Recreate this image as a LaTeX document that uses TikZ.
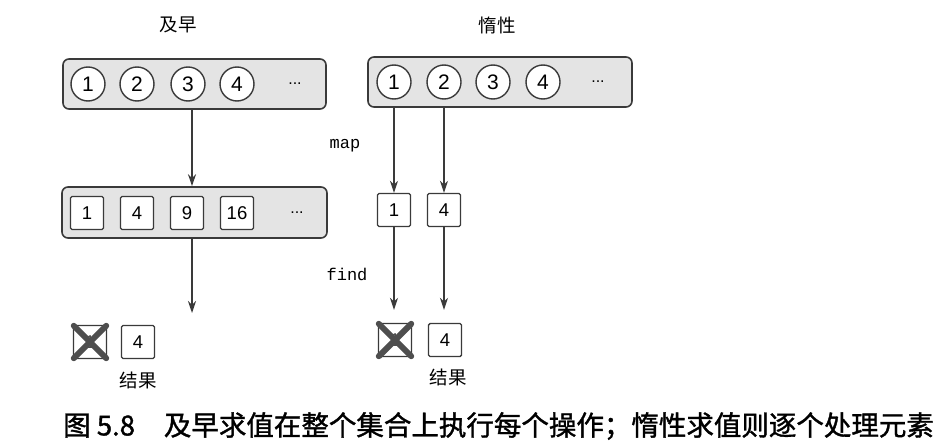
\documentclass[tikz,border=0pt]{standalone}
\usepackage{fontspec}
\setmainfont{Liberation Sans}
\newfontfamily\cjk{Noto Sans CJK SC}
\newfontfamily\capfont[FakeBold=1.3]{Noto Sans CJK SC}
\newfontfamily\mono{Liberation Mono}
\usetikzlibrary{arrows.meta}
\definecolor{boxfill}{HTML}{E4E4E4}
\definecolor{edge}{HTML}{3A3A3A}
\definecolor{crossc}{HTML}{4E4E4E}
\tikzset{
  coll/.style={draw=edge, line width=1.6pt, fill=boxfill, rounded corners=6pt, inner sep=0pt},
  elem/.style={circle, draw=edge, line width=1.4pt, fill=white, minimum size=34pt, inner sep=0pt, font=\fontsize{21}{21}\selectfont},
  sq/.style={rectangle, draw=edge, line width=1.4pt, fill=white, rounded corners=1.5pt, minimum size=33pt, inner sep=0pt, font=\fontsize{18.5}{18.5}\selectfont},
  dots/.style={font=\fontsize{16}{16}\selectfont},
  title/.style={font=\cjk\fontsize{18.5}{18.5}\selectfont},
  lbl/.style={font=\mono\fontsize{17}{17}\selectfont},
  flow/.style={draw=edge, line width=1.3pt, -{Stealth[length=12pt,width=8pt]}},
  cross/.style={draw=crossc, line width=6pt, line cap=round},
}
\begin{document}
\begin{tikzpicture}[x=1pt,y=-1pt]
\useasboundingbox (0,0) rectangle (942,447);
\fill[white] (0,0) rectangle (942,447);

% titles
\node[title] (teager) at (178,25) {及早};
\node[title] (tlazy) at (497,25) {惰性};

% eager top collection
\node[coll, minimum width=263pt, minimum height=50pt] (ebox) at (194.5,84) {};
\node[elem] (e1) at (88,84) {1};
\node[elem] (e2) at (137,84) {2};
\node[elem] (e3) at (188,84) {3};
\node[elem] (e4) at (237,84) {4};
\node[dots] (edots) at (295,84) {...};

% eager mapped collection
\node[coll, minimum width=265pt, minimum height=51pt] (mbox) at (194.5,212.5) {};
\node[sq] (m1) at (87,213) {1};
\node[sq] (m2) at (137,213) {4};
\node[sq] (m3) at (187,213) {9};
\node[sq] (m4) at (237,213) {16};
\node[dots] (mdots) at (297,213) {...};

\coordinate (eout) at (192,313);
\draw[flow] (ebox.south -| eout) -- (mbox.north -| eout);
\draw[flow] (mbox.south -| eout) -- (eout);

% eager result
\node[sq, text=crossc] (ex) at (90,342) {1};
\draw[cross] ([shift={(1,1)}]ex.north west) -- ([shift={(-1,-1)}]ex.south east);
\draw[cross] ([shift={(-1,1)}]ex.north east) -- ([shift={(1,-1)}]ex.south west);
\node[sq] (er) at (138,342) {4};
\node[title] (eres) at (138,380) {结果};

% lazy top collection
\node[coll, minimum width=264pt, minimum height=50pt] (lbox) at (500,82) {};
\node[elem] (l1) at (394,82) {1};
\node[elem] (l2) at (444,82) {2};
\node[elem] (l3) at (493,82) {3};
\node[elem] (l4) at (543,82) {4};
\node[dots] (ldots) at (598,82) {...};

% lazy mapped
\node[sq] (s1) at (394,210) {1};
\node[sq] (s2) at (444,210) {4};
\draw[flow] (lbox.south -| s1) -- (s1.north);
\draw[flow] (lbox.south -| s2) -- (s2.north);
\node[lbl] (map) at (345,146) {map};

% lazy result
\node[sq, text=crossc] (lx) at (395,340) {1};
\draw[cross] ([shift={(1,1)}]lx.north west) -- ([shift={(-1,-1)}]lx.south east);
\draw[cross] ([shift={(-1,1)}]lx.north east) -- ([shift={(1,-1)}]lx.south west);
\node[sq] (lr) at (445,340) {4};
\node[title] (lres) at (448,377) {结果};
\draw[flow, shorten >=13pt] (s1.south) -- (s1 |- lx.north);
\draw[flow, shorten >=13pt] (s2.south) -- (s2 |- lr.north);
\node[lbl] (find) at (347,274) {find};

% caption
\node[anchor=west, inner sep=0pt, font=\capfont\fontsize{27.5}{27.5}\selectfont] (cap) at (63,426) {图~5.8\hspace{1.05em}及早求值在整个集合上执行每个操作；惰性求值则逐个处理元素};
\end{tikzpicture}
\end{document}
